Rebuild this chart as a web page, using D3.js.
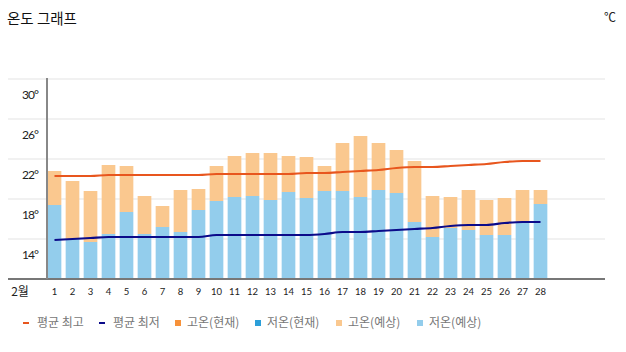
<!DOCTYPE html>
<html><head><meta charset="utf-8">
<script src="https://cdn.jsdelivr.net/npm/d3@7/dist/d3.min.js"></script>
<style>
html,body{margin:0;padding:0;background:#fff;}
svg{display:block;font-family:"Noto Sans CJK KR","Noto Sans",sans-serif;}
</style></head>
<body>
<svg id="c" width="626" height="352"></svg>
<script>
const days = d3.range(1, 29);
const dayLabels = days.map(String);
const highForecast = [20.8,19.8,18.8,21.4,21.3,18.3,17.3,18.9,19.0,21.3,22.3,22.6,22.6,22.3,22.2,21.3,23.6,24.3,23.6,22.9,21.8,18.3,18.2,18.9,17.9,18.1,18.9,18.9];
const lowForecast  = [17.4,14.0,13.7,14.5,16.7,14.5,15.2,14.7,16.9,17.8,18.2,18.3,17.9,18.7,18.1,18.8,18.8,18.2,18.9,18.6,15.7,14.2,15.1,14.9,14.4,14.4,15.7,17.5];
const meanHigh = [20.3,20.3,20.3,20.4,20.4,20.4,20.4,20.4,20.4,20.5,20.5,20.5,20.5,20.5,20.6,20.6,20.7,20.8,20.9,21.1,21.2,21.2,21.3,21.4,21.5,21.7,21.8,21.8];
const meanLow  = [13.9,14.0,14.1,14.2,14.2,14.2,14.2,14.2,14.2,14.4,14.4,14.4,14.4,14.4,14.4,14.5,14.7,14.7,14.8,14.9,15.0,15.1,15.3,15.4,15.4,15.6,15.7,15.7];
const yTicks = [14, 18, 22, 26, 30];
const legendItems = [
  {label:"평균 최고", type:"line", color:"#e8561e"},
  {label:"평균 최저", type:"line", color:"#0b0b8a"},
  {label:"고온(현재)", type:"rect", color:"#f7923a"},
  {label:"저온(현재)", type:"rect", color:"#2c9fd9"},
  {label:"고온(예상)", type:"rect", color:"#fac88f"},
  {label:"저온(예상)", type:"rect", color:"#93cdec"}
];

const svg = d3.select("#c");
const x = d3.scaleBand().domain(days).range([45.5, 549.5]).paddingInner(0.24).paddingOuter(0.12);
const y = d3.scaleLinear().domain([10, 30]).range([279, 79]);

// title
svg.append("text").attr("x", 7).attr("y", 24).attr("font-size", 14.5).attr("fill", "#111").text("온도 그래프");
svg.append("text").attr("x", 616).attr("y", 22).attr("text-anchor", "end").attr("font-size", 12).attr("fill", "#222").text("℃");

// grid
svg.append("g").selectAll("line").data(yTicks).join("line")
  .attr("x1", 8).attr("x2", 605).attr("y1", d => y(d)).attr("y2", d => y(d))
  .attr("stroke", "#ececec").attr("stroke-width", 1.5);
svg.append("g").selectAll("text").data(yTicks).join("text")
  .attr("x", 30).attr("y", d => y(d) + 16).attr("dy", "0.35em").attr("text-anchor", "middle")
  .attr("font-size", 12).attr("letter-spacing", "-1").attr("fill", "#222")
  .attr("font-family", "Lato, 'Noto Sans', sans-serif").text(d => d + "°");

// bars: low part
svg.append("g").selectAll("rect").data(days).join("rect")
  .attr("x", d => x(d)).attr("width", x.bandwidth())
  .attr("y", (d, i) => y(lowForecast[i])).attr("height", (d, i) => y(10) - y(lowForecast[i]))
  .attr("fill", "#93cdec");
// bars: high part
svg.append("g").selectAll("rect").data(days).join("rect")
  .attr("x", d => x(d)).attr("width", x.bandwidth())
  .attr("y", (d, i) => y(highForecast[i])).attr("height", (d, i) => y(lowForecast[i]) - y(highForecast[i]))
  .attr("fill", "#fac88f");

// axes lines
svg.append("line").attr("x1", 8).attr("x2", 605).attr("y1", 279).attr("y2", 279).attr("stroke", "#777").attr("stroke-width", 2);
svg.append("line").attr("x1", 47).attr("x2", 47).attr("y1", 78).attr("y2", 279).attr("stroke", "#888").attr("stroke-width", 2);

// mean lines
const cx = d => x(d) + x.bandwidth() / 2;
const lineGen = d3.line().x((d, i) => cx(days[i])).y(d => y(d)).curve(d3.curveMonotoneX);
svg.append("path").attr("d", lineGen(meanHigh)).attr("fill", "none").attr("stroke", "#e8561e").attr("stroke-width", 2.2);
svg.append("path").attr("d", lineGen(meanLow)).attr("fill", "none").attr("stroke", "#0b0b8a").attr("stroke-width", 2.2);

// x labels
svg.append("g").selectAll("text").data(days).join("text")
  .attr("x", d => cx(d)).attr("y", 292).attr("dy", "0.35em").attr("text-anchor", "middle")
  .attr("font-size", 9.5).attr("fill", "#222").attr("font-family", "Lato, 'Noto Sans', sans-serif")
  .text((d, i) => dayLabels[i]);
svg.append("text").attr("x", 20).attr("y", 292).attr("dy", "0.35em").attr("text-anchor", "middle")
  .attr("font-size", 12).attr("fill", "#222").text("2월");

// legend
const legX = [23, 99, 175, 255, 336, 417];
const lg = svg.append("g").selectAll("g").data(legendItems).join("g")
  .attr("transform", (d, i) => `translate(${legX[i]},323)`);
lg.filter(d => d.type === "line").append("line").attr("x1", 0).attr("x2", 6).attr("y1", 0).attr("y2", 0)
  .attr("stroke", d => d.color).attr("stroke-width", 2);
lg.filter(d => d.type === "rect").append("rect").attr("x", 0).attr("y", -3).attr("width", 6).attr("height", 6)
  .attr("fill", d => d.color);
lg.append("text").attr("x", (d, i) => d.type === "line" ? 14 : 12).attr("y", 0).attr("dy", "0.35em")
  .attr("font-size", 12).attr("fill", "#777").text(d => d.label);
</script>
</body></html>
